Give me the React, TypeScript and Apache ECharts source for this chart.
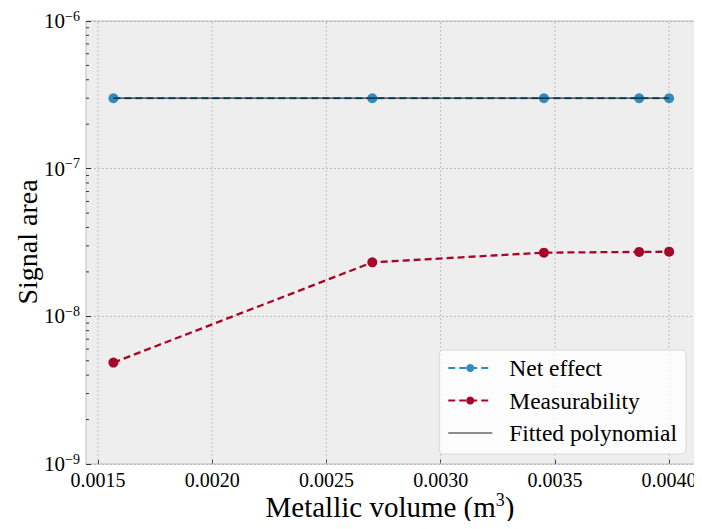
import React, { useEffect, useRef } from "react";
import * as echarts from "echarts";

// Metallic volume (m^3) of each sample
const volumes = [0.001568, 0.002701, 0.003452, 0.003869, 0.004];
// Signal area per sample
const netEffect = [3.0e-7, 3.0e-7, 3.0e-7, 3.0e-7, 3.0e-7];
const measurability = [4.86e-9, 2.32e-8, 2.7e-8, 2.73e-8, 2.74e-8];
const fittedPolynomial = [3.0e-7, 3.0e-7, 3.0e-7, 3.0e-7, 3.0e-7];

// Axis settings
const xTicks = [0.0015, 0.002, 0.0025, 0.003, 0.0035, 0.004];
const X_MIN = 0.001448;
const X_MAX = 0.004122;
const Y_MIN = 1e-9;
const Y_MAX = 1e-6;
const yMinorTicks = [2, 3, 4, 5, 6, 7, 8, 9].flatMap((m) => [m * 1e-9, m * 1e-8, m * 1e-7]);

const FONT = "Liberation Serif";
const BLUE = "#348ABD";
const RED = "#A60628";
const GRID = "#B2B2B2";

const pair = (xs: number[], ys: number[]) => xs.map((x, i) => [x, ys[i]]);

export default function App() {
  const ref = useRef<HTMLDivElement>(null);

  useEffect(() => {
    if (!ref.current) return;
    const chart = echarts.init(ref.current, undefined, { renderer: "svg" });

    const option: any = {
      animation: false,
      textStyle: { fontFamily: FONT, color: "#000" },
      grid: {
        left: 86,
        right: 5,
        top: 21,
        bottom: 65,
        show: true,
        backgroundColor: "#EEEEEE",
        borderColor: "#BCBCBC",
        borderWidth: 1,
      },
      graphic: [
        {
          // x-axis title with superscript unit
          type: "text",
          x: 390,
          y: 507,
          silent: true,
          style: {
            text: "{t|Metallic volume (m}{s|3}{t|)}",
            align: "center",
            verticalAlign: "middle",
            rich: {
              t: { fontFamily: FONT, fontSize: 29, fill: "#000", lineHeight: 32 },
              s: { fontFamily: FONT, fontSize: 18, fill: "#000", verticalAlign: "top" },
            },
          },
        },
        {
          // y-axis title
          type: "text",
          x: 27,
          y: 242,
          rotation: Math.PI / 2,
          silent: true,
          style: {
            text: "Signal area",
            fontFamily: FONT,
            fontSize: 28,
            fill: "#000",
            align: "center",
            verticalAlign: "middle",
          },
        },
      ],
      legend: {
        data: [
          { name: "Net effect" },
          { name: "Measurability" },
          { name: "Fitted polynomial", itemStyle: { opacity: 0 }, lineStyle: { color: "#444", type: "solid", width: 1.3 } },
        ],
        orient: "vertical",
        right: 16,
        bottom: 75,
        backgroundColor: "rgba(255,255,255,0.8)",
        borderColor: "#D8D8D8",
        borderWidth: 1,
        borderRadius: 4,
        padding: [6, 9, 9, 8],
        itemWidth: 44,
        itemHeight: 10,
        itemGap: 8.5,
        textStyle: { fontFamily: FONT, fontSize: 23.5, color: "#000", lineHeight: 24, padding: [0, 0, 0, 12] },
      },
      xAxis: {
        type: "value",
        min: X_MIN,
        max: X_MAX,
        axisLine: { show: false },
        axisTick: {
          show: true,
          inside: true,
          length: 4,
          customValues: xTicks,
          lineStyle: { color: "#333" },
        },
        axisLabel: {
          customValues: xTicks,
          formatter: (v: number) => v.toFixed(4),
          fontFamily: FONT,
          fontSize: 20,
          color: "#000",
          margin: 6,
        },
        splitLine: { show: false },
      },
      yAxis: {
        type: "log",
        logBase: 10,
        min: Y_MIN,
        max: Y_MAX,
        axisLine: { show: false },
        axisTick: { show: true, inside: true, length: 5, lineStyle: { color: "#333" } },
        axisLabel: {
          margin: 6,
          formatter: (v: number) => {
            const e = Math.round(Math.log10(v));
            return `{b|10}{s|${e < 0 ? "\u2212" : ""}${Math.abs(e)}}`;
          },
          rich: {
            b: { fontFamily: FONT, fontSize: 21, color: "#000", lineHeight: 24 },
            s: { fontFamily: FONT, fontSize: 14, color: "#000", verticalAlign: "top" },
          },
        },
        splitLine: { show: true, lineStyle: { color: GRID, type: [2, 2], width: 0.8 } },
      },
      series: [
        {
          // Vertical grid lines at the labelled x ticks
          type: "custom",
          name: "xgrid",
          z: 1,
          silent: true,
          clip: false,
          encode: { x: 0, y: 1 },
          data: xTicks.map((x) => [x, Y_MIN]),
          renderItem: (params: any, api: any) => {
            const xv = api.value(0);
            const p0 = api.coord([xv, Y_MIN]);
            const p1 = api.coord([xv, Y_MAX]);
            return {
              type: "line",
              shape: { x1: p0[0], y1: p0[1], x2: p1[0], y2: p1[1] },
              style: { stroke: GRID, lineWidth: 0.8, lineDash: [2, 2], fill: null },
            };
          },
        },
        {
          // Minor log ticks on the left edge
          type: "custom",
          name: "minor",
          z: 5,
          silent: true,
          clip: false,
          encode: { x: 0, y: 1 },
          data: yMinorTicks.map((v) => [X_MIN, v]),
          renderItem: (params: any, api: any) => {
            const p = api.coord([X_MIN, api.value(1)]);
            return {
              type: "line",
              shape: { x1: p[0], y1: p[1], x2: p[0] + 3, y2: p[1] },
              style: { stroke: "#333", lineWidth: 1, fill: null },
            };
          },
        },
        {
          type: "line",
          name: "Net effect",
          z: 3,
          data: pair(volumes, netEffect),
          symbol: "circle",
          symbolSize: 10,
          color: BLUE,
          itemStyle: { color: BLUE },
          lineStyle: { color: BLUE, width: 2.3, type: [7, 4] },
        },
        {
          type: "line",
          name: "Measurability",
          z: 3,
          data: pair(volumes, measurability),
          symbol: "circle",
          symbolSize: 10,
          color: RED,
          itemStyle: { color: RED },
          lineStyle: { color: RED, width: 2.3, type: [7, 4] },
        },
        {
          type: "line",
          name: "Fitted polynomial",
          z: 4,
          data: pair(volumes, fittedPolynomial),
          symbol: "none",
          color: "#444",
          lineStyle: { color: "#000", width: 1.3, opacity: 0.8 },
        },
      ],
    };

    chart.setOption(option);
    return () => chart.dispose();
  }, []);

  return <div ref={ref} style={{ width: 702, height: 529, margin: -8 }} />;
}
